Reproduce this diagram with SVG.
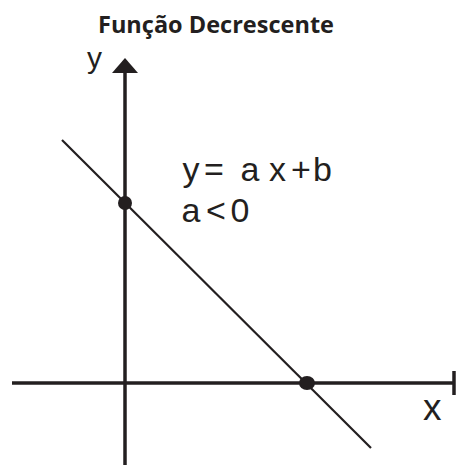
<svg xmlns="http://www.w3.org/2000/svg" width="456" height="465" viewBox="0 0 456 465">
<style>
.axis{stroke:#231f20;stroke-width:3.5;fill:none}
.line{stroke:#231f20;stroke-width:2.2;fill:none}
.dot{fill:#231f20}
.lbl{font-family:"Liberation Sans",Arial,sans-serif;fill:#231f20}
.title{font-family:"Open Sans","Liberation Sans",sans-serif;font-weight:bold;font-size:24px;fill:#231f20}
</style>
<rect width="456" height="465" fill="#fff"/>
<g id="title"><text class="title" x="216" y="33" text-anchor="middle" textLength="236" lengthAdjust="spacingAndGlyphs">Função Decrescente</text></g>
<g id="connectors">
<line class="axis" x1="125" y1="70" x2="125" y2="465"/>
<polygon class="dot" points="125,58 138,73 112,73"/>
<line class="axis" x1="12" y1="383" x2="454" y2="383"/>
<line class="axis" x1="454" y1="371" x2="454" y2="395"/>
<line class="line" x1="62" y1="140" x2="371" y2="448"/>
</g>
<g id="y-label"><text class="lbl" x="87" y="68" font-size="30">y</text></g>
<g id="x-label"><text class="lbl" x="423" y="420" font-size="37">x</text></g>
<g id="point-y"><circle class="dot" cx="125" cy="203" r="7"/></g>
<g id="point-x"><ellipse class="dot" cx="307" cy="383" rx="8" ry="7"/></g>
<g id="equation">
<text class="lbl" y="181" font-size="34"><tspan x="182.5">y</tspan><tspan x="204">=</tspan><tspan x="240.5">a</tspan><tspan x="269">x</tspan><tspan x="291">+</tspan><tspan x="313">b</tspan></text>
<text class="lbl" y="222" font-size="34"><tspan x="181.5">a</tspan><tspan x="206">&lt;</tspan><tspan x="230.5">0</tspan></text>
</g>
</svg>
